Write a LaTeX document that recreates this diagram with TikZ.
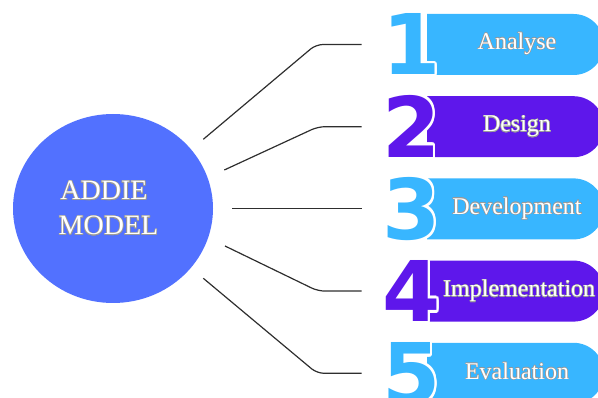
\documentclass[tikz,border=0pt]{standalone}
\usepackage{fontspec}
\setmainfont{Liberation Serif}
\newfontfamily\digitfont{DejaVu Sans}
\usetikzlibrary{shapes.geometric,shapes.misc}

\definecolor{hubblue}{HTML}{5271FF}
\definecolor{skyblue}{HTML}{38B6FF}
\definecolor{deepviolet}{HTML}{5E17EB}
\definecolor{etch}{HTML}{9A9A9A}
\definecolor{wire}{HTML}{2E2E2E}

% Text with a thin ring of colour #1 (radius #2) around glyphs filled in #3
\newcommand\ringed[4]{%
  \setbox0=\hbox{#4}%
  {\color{#1}%
   \foreach \ang in {0,22.5,...,337.5}{%
     \pgfmathsetlengthmacro\dx{#2*cos(\ang)}%
     \pgfmathsetlengthmacro\dy{#2*sin(\ang)}%
     \rlap{\kern\dx\raise\dy\copy0}}}%
  {\color{#3}\box0}}

\tikzset{
  hub/.style={ellipse, fill=hubblue, minimum width=200pt, minimum height=189pt, inner sep=0pt},
  title/.style={anchor=base, inner sep=0pt, font=\fontsize{28}{34}\selectfont},
  stepbar/.style={rounded rectangle, rounded rectangle left arc=none,
    minimum width=177pt, minimum height=61pt, inner sep=0pt},
  stepnum/.style={anchor=base, inner sep=0pt, font=\digitfont\bfseries\fontsize{83.7}{90}\selectfont},
  steplabel/.style={anchor=base, inner sep=0pt, font=\fontsize{24}{28}\selectfont},
  conn/.style={draw=wire, line width=1.2pt, rounded corners=7pt},
}

\begin{document}
\begin{tikzpicture}[x=1pt,y=-1pt]
\useasboundingbox (0,0) rectangle (598,398);

% central hub
\node[hub] (hub) at (113,208.5) {};
\node[title] (t1) at (104,200) {\ringed{etch}{0.6pt}{white}{ADDIE}};
\node[title] (t2) at (108.5,235) {\ringed{etch}{0.6pt}{white}{MODEL}};

% step bars
\node[stepbar, fill=skyblue]     (s1) at (515.5,44.5)  {};
\node[stepbar, fill=deepviolet]  (s2) at (515.5,126.7) {};
\node[stepbar, fill=skyblue]     (s3) at (515.5,208.9) {};
\node[stepbar, fill=deepviolet]  (s4) at (515.5,291.1) {};
\node[stepbar, fill=skyblue]     (s5) at (515.5,373.3) {};

% step numbers, ringed in white where they overlap the bars
\node[stepnum] (n1) at (411.5,75)    {\ringed{white}{2.6pt}{skyblue}{1}};
\node[stepnum] (n2) at (411.5,157.2) {\ringed{white}{2.6pt}{deepviolet}{2}};
\node[stepnum] (n3) at (411.5,239.4) {\ringed{white}{2.6pt}{skyblue}{3}};
\node[stepnum] (n4) at (411.5,321.6) {\ringed{white}{2.6pt}{deepviolet}{4}};
\node[stepnum] (n5) at (411.5,403.8) {\ringed{white}{2.6pt}{skyblue}{5}};

% step labels
\node[steplabel] (l1) at (517,49.5)  {\ringed{etch}{0.5pt}{white}{Analyse}};
\node[steplabel] (l2) at (517,131.7) {\ringed{etch}{0.5pt}{white}{Design}};
\node[steplabel] (l3) at (517,214.4) {\ringed{etch}{0.5pt}{white}{Development}};
\node[steplabel, anchor=base west] (l4) at (443,296.6) {\ringed{etch}{0.5pt}{white}{Implementation}};
\node[steplabel] (l5) at (517,379.5) {\ringed{etch}{0.5pt}{white}{Evaluation}};

% connector ends
\coordinate (a1) at (203.3,139.3); \coordinate (b1) at (316,44.5);  \coordinate (e1) at (361.7,44.5);
\coordinate (a2) at (224.3,170);   \coordinate (b2) at (318,126.7); \coordinate (e2) at (361.7,126.7);
\coordinate (a3) at (232.3,208.9);                                   \coordinate (e3) at (361.7,208.9);
\coordinate (a4) at (225,246);     \coordinate (b4) at (318,291.1); \coordinate (e4) at (361.7,291.1);
\coordinate (a5) at (203.3,278.3); \coordinate (b5) at (317,373.3); \coordinate (e5) at (361.7,373.3);

% connectors
\draw[conn] (a1) -- (b1) -- (e1);
\draw[conn] (a2) -- (b2) -- (e2);
\draw[conn] (a3) -- (e3);
\draw[conn] (a4) -- (b4) -- (e4);
\draw[conn] (a5) -- (b5) -- (e5);
\end{tikzpicture}
\end{document}
